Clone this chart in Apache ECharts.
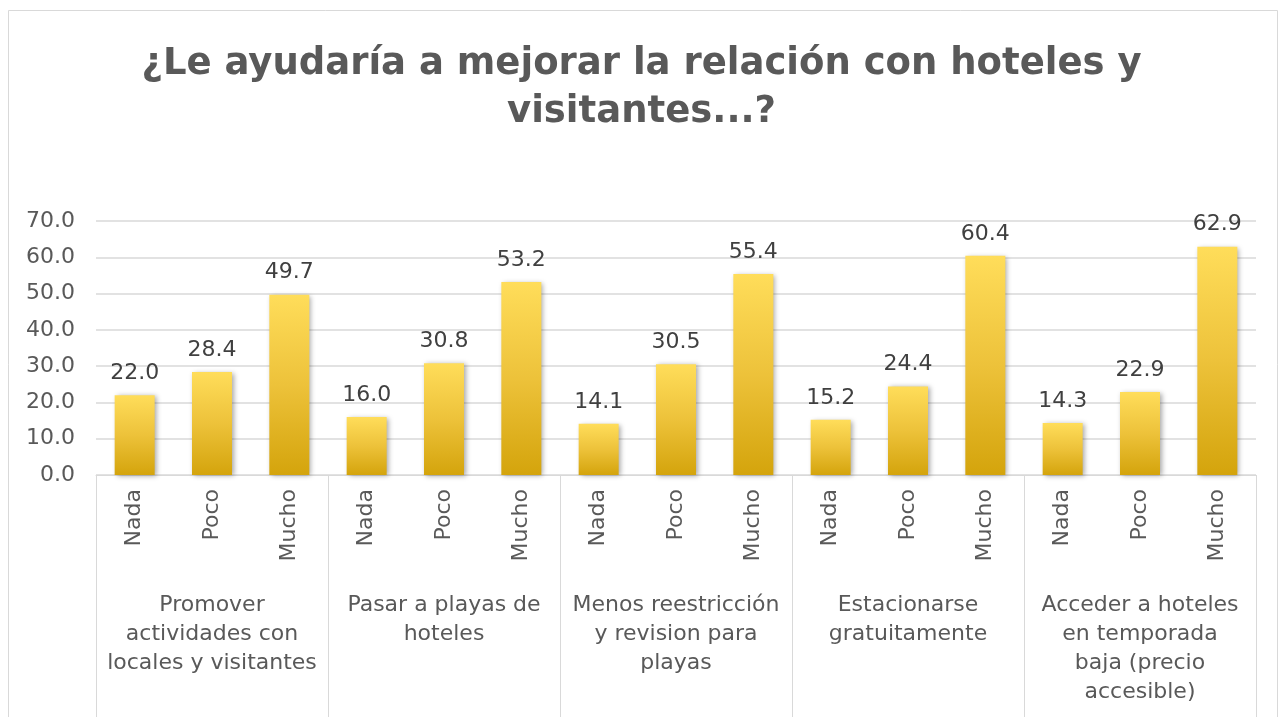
<!DOCTYPE html>
<html>
<head>
<meta charset="utf-8">
<script src="https://cdn.jsdelivr.net/npm/echarts@6/dist/echarts.min.js"></script>
<style>
  html, body { margin: 0; padding: 0; background: #fff; }
  #chart { width: 1283px; height: 717px; }
</style>
</head>
<body>
<div id="chart"></div>
<script>
const levels = ['Nada', 'Poco', 'Mucho'];
const groups = [
  'Promover\nactividades con\nlocales y visitantes',
  'Pasar a playas de\nhoteles',
  'Menos reestricción\ny revision para\nplayas',
  'Estacionarse\ngratuitamente',
  'Acceder a hoteles\nen temporada\nbaja (precio\naccesible)'
];
const values = [
  22.0, 28.4, 49.7,
  16.0, 30.8, 53.2,
  14.1, 30.5, 55.4,
  15.2, 24.4, 60.4,
  14.3, 22.9, 62.9
];
const yTicks = [0, 10, 20, 30, 40, 50, 60, 70];

const categories = [];
groups.forEach(function (g) {
  levels.forEach(function (l) { categories.push(l); });
});

const font = 'DejaVu Sans';
const chart = echarts.init(document.getElementById('chart'));
chart.setOption({
  backgroundColor: '#fff',
  textStyle: { fontFamily: font },
  title: {
    text: '¿Le ayudaría a mejorar la relación con hoteles y\nvisitantes...?',
    left: 'center',
    top: 35,
    textStyle: {
      fontFamily: font,
      fontSize: 37,
      fontWeight: 'bold',
      color: '#595959',
      lineHeight: 48
    }
  },
  graphic: [{
    type: 'rect',
    shape: { x: 8.5, y: 10.5, width: 1269, height: 720 },
    style: { fill: 'none', stroke: '#d9d9d9', lineWidth: 1 },
    silent: true
  }],
  grid: { left: 96, right: 27, top: 221, bottom: 242 },
  xAxis: [{
    type: 'category',
    data: categories,
    position: 'bottom',
    axisLine: { lineStyle: { color: '#d9d9d9' } },
    axisTick: { show: false },
    axisLabel: {
      interval: 0,
      rotate: 90,
      margin: 14,
      fontSize: 22,
      color: '#595959',
      fontFamily: font
    }
  }, {
    type: 'category',
    data: groups,
    position: 'bottom',
    axisLine: { show: false },
    axisTick: {
      show: true,
      interval: 0,
      length: 245,
      lineStyle: { color: '#d9d9d9' }
    },
    axisLabel: {
      interval: 0,
      margin: 116,
      fontSize: 22,
      lineHeight: 29,
      color: '#595959',
      fontFamily: font
    }
  }],
  yAxis: {
    type: 'value',
    min: yTicks[0],
    max: yTicks[yTicks.length - 1],
    interval: 10,
    axisLine: { show: false },
    axisTick: { show: false },
    splitLine: { lineStyle: { color: '#d9d9d9', width: 1.5 } },
    axisLabel: {
      margin: 21,
      fontSize: 22,
      color: '#595959',
      fontFamily: font,
      formatter: function (v) { return v.toFixed(1); }
    }
  },
  series: [{
    type: 'bar',
    data: values,
    xAxisIndex: 0,
    barWidth: 40,
    itemStyle: {
      color: new echarts.graphic.LinearGradient(0, 0, 0, 1, [
        { offset: 0, color: '#FFDD5A' },
        { offset: 0.5, color: '#EDC23A' },
        { offset: 1, color: '#D4A40C' }
      ]),
      shadowColor: 'rgba(0,0,0,0.35)',
      shadowBlur: 5,
      shadowOffsetX: 2,
      shadowOffsetY: 1
    },
    label: {
      show: true,
      position: 'top',
      distance: 11,
      fontSize: 22,
      color: '#404040',
      fontFamily: font,
      formatter: function (p) { return p.value.toFixed(1); }
    }
  }]
});
</script>
</body>
</html>
